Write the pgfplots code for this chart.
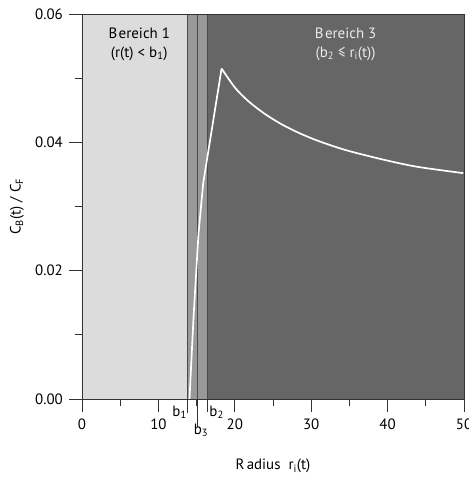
\documentclass[border=0pt]{standalone}
\usepackage{pgfplots}
\pgfplotsset{compat=1.18}
\usepackage{fontspec}
\setmainfont{PT Sans}
\definecolor{lightreg}{HTML}{DCDCDC}
\definecolor{midreg}{HTML}{999999}
\definecolor{darkreg}{HTML}{666666}
\definecolor{vline}{HTML}{4A4A4A}
\definecolor{axcol}{HTML}{333333}
\begin{document}
\fontsize{15}{17}\selectfont
\begin{tikzpicture}
\begin{axis}[
  scale only axis,
  width=382bp, height=385bp,
  xmin=0, xmax=50, ymin=0, ymax=0.06,
  xtick={0,10,20,30,40,50},
  ytick={0,0.02,0.04,0.06},
  minor x tick num=1,
  minor y tick num=1,
  tick pos=left,
  tick align=outside,
  major tick length=13bp,
  minor tick length=6.5bp,
  every tick/.style={axcol, line width=0.7bp},
  axis line style={axcol, line width=0.7bp},
  scaled y ticks=false,
  /pgf/number format/assume math mode=true,
  yticklabel style={/pgf/number format/fixed, /pgf/number format/fixed zerofill, /pgf/number format/precision=2, xshift=-1bp},
  xticklabel style={yshift=-2bp},
  clip=false,
  axis on top=true,
  xlabel={R\kern0.15em adius\ \ r\textsubscript{i}(t)},
  ylabel={C\textsubscript{B}(t) / C\textsubscript{F}},
  every axis x label/.style={at={(axis description cs:0.5,-0.174)}, anchor=center},
  every axis y label/.style={at={(axis description cs:-0.17,0.5)}, anchor=center, rotate=90},
]
\addplot[draw=none, fill=lightreg] coordinates {(0,0) (0,0.06) (13.8,0.06) (13.8,0)} \closedcycle;
\addplot[draw=none, fill=midreg] coordinates {(13.8,0) (13.8,0.06) (16.4,0.06) (16.4,0)} \closedcycle;
\addplot[draw=none, fill=darkreg] coordinates {(16.4,0) (16.4,0.06) (50,0.06) (50,0)} \closedcycle;
\addplot[vline, line width=0.8bp] coordinates {(13.8,0.06) (13.8,0)};
\addplot[vline, line width=0.8bp] coordinates {(15.05,0.06) (15.05,0)};
\addplot[vline, line width=0.8bp] coordinates {(16.4,0.06) (16.4,0)};
\draw[axcol, line width=0.7bp] (axis cs:13.8,0) -- ++(0,-14bp);
\draw[axcol, line width=0.7bp] (axis cs:15.05,0) -- ++(0,-28bp);
\draw[axcol, line width=0.7bp] (axis cs:16.4,0) -- ++(0,-13bp);
\addplot[white, line width=1.7bp] coordinates {
(14.07,0) (14.6,0.0128) (15.25,0.0258) (15.86,0.0336) (18.27,0.0515)};
\addplot[white, line width=1.7bp, smooth, tension=0.5] coordinates {
(18.27,0.0515) (20.04,0.0485) (21.79,0.0464) (23.97,0.0444) (26.15,0.0428) (28.33,0.0415) (30.52,0.0404) (32.9,0.0394) (35.09,0.0386) (39.45,0.0373) (43.83,0.0362) (49.9,0.0352)};
\node[anchor=north east, inner sep=0.5bp] at (axis cs:13.8,0) [yshift=-6bp] {b\textsubscript{1}};
\node[anchor=north west, inner sep=0.5bp] at (axis cs:16.4,0) [xshift=1.5bp, yshift=-6bp] {b\textsubscript{2}};
\node[anchor=north, inner sep=0.5bp] at (axis cs:15.05,0) [xshift=4bp, yshift=-24bp] {b\textsubscript{3}};
\node[align=center, inner sep=0pt] at (axis cs:7.5,0.0553) {B\kern0.1em ereich 1\\[2bp](r(t) {<} b\textsubscript{1})};
\node[align=center, inner sep=0pt, text=white!92!black] at (axis cs:34.5,0.0553) {B\kern0.1em ereich 3\\[2bp](b\textsubscript{2} ≤ r\textsubscript{i}(t))};
\end{axis}
\pgfresetboundingbox
\path[use as bounding box] (-82bp,-81bp) rectangle (387bp,399bp);
\end{tikzpicture}
\end{document}
